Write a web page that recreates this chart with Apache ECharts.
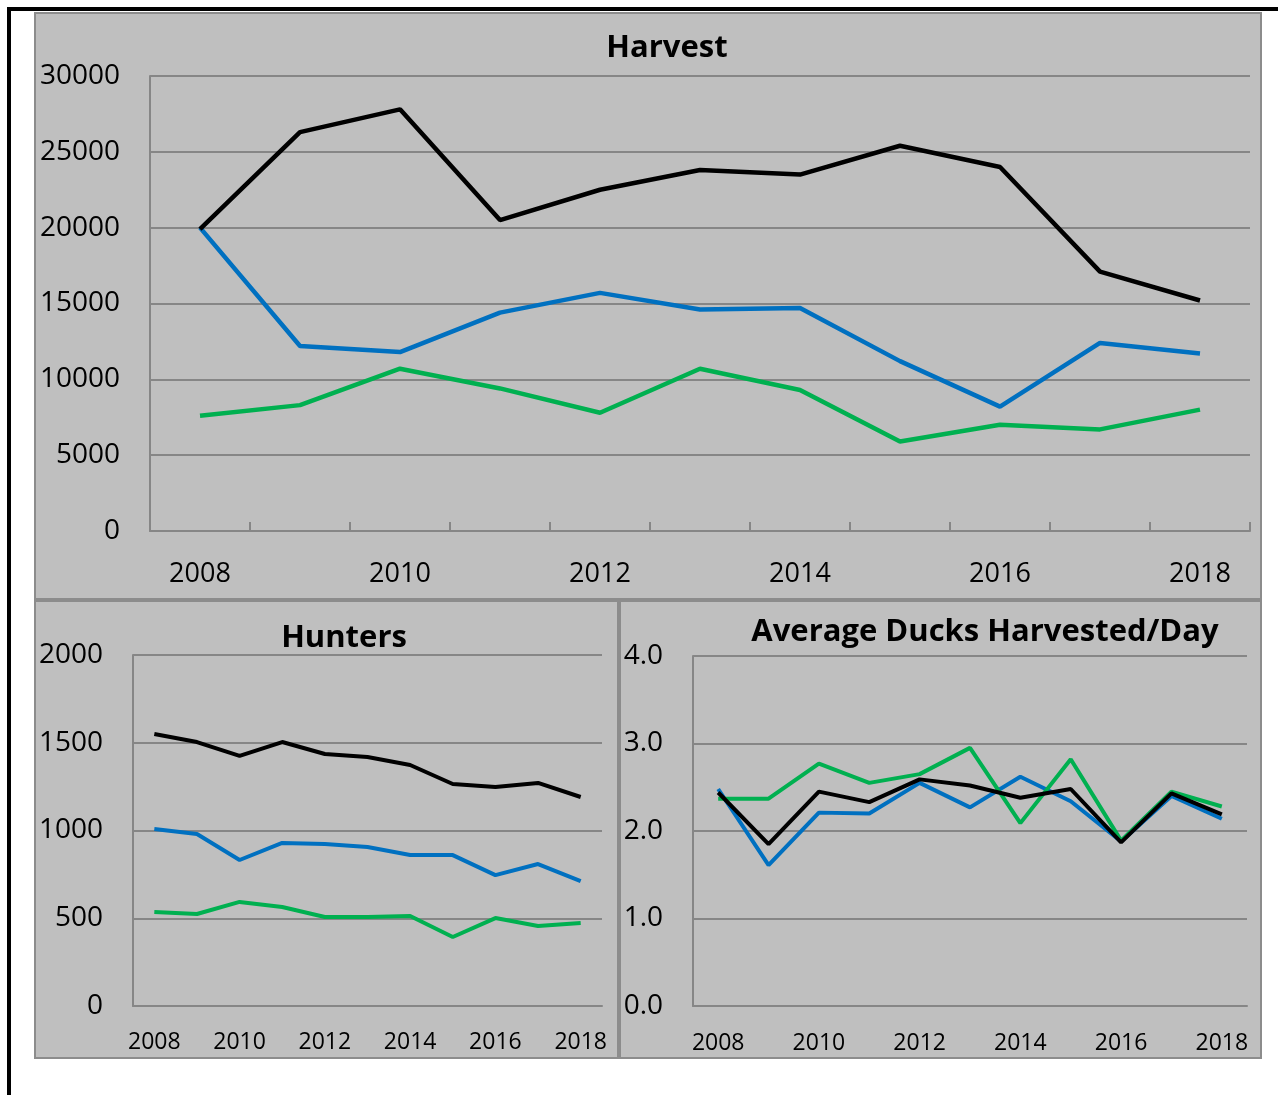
<!DOCTYPE html>
<html>
<head>
<meta charset="utf-8">
<script src="https://cdn.jsdelivr.net/npm/echarts@6/dist/echarts.min.js"></script>
<style>
html,body{margin:0;padding:0;background:#fff;}
#chart{width:1278px;height:1095px;}
</style>
</head>
<body>
<div id="chart"></div>
<script>
var years = ['2008','2009','2010','2011','2012','2013','2014','2015','2016','2017','2018'];

var harvestBlack = [19900, 26300, 27800, 20500, 22500, 23800, 23500, 25400, 24000, 17100, 15200];
var harvestBlue  = [20000, 12200, 11800, 14400, 15700, 14600, 14700, 11200, 8200, 12400, 11700];
var harvestGreen = [7600, 8300, 10700, 9400, 7800, 10700, 9300, 5900, 7000, 6700, 8000];

var huntersBlack = [1550, 1504, 1425, 1504, 1436, 1419, 1373, 1265, 1248, 1271, 1191];
var huntersBlue  = [1009, 980, 832, 929, 923, 906, 860, 860, 746, 809, 712];
var huntersGreen = [536, 524, 593, 564, 507, 507, 513, 393, 501, 456, 473];

var avgBlack = [2.44, 1.85, 2.45, 2.33, 2.59, 2.52, 2.38, 2.48, 1.87, 2.43, 2.19];
var avgBlue  = [2.48, 1.61, 2.21, 2.20, 2.55, 2.27, 2.62, 2.34, 1.88, 2.40, 2.14];
var avgGreen = [2.37, 2.37, 2.77, 2.55, 2.65, 2.95, 2.09, 2.82, 1.89, 2.45, 2.28];

var BLACK = '#000000', BLUE = '#0070C0', GREEN = '#00B050';
var GRID = '#868686';
var FONT = 'Open Sans';

var chart = echarts.init(document.getElementById('chart'), null, {renderer:'canvas'});

function xAxis(gi, fs, margin, ticks) {
  return {
    type:'category', gridIndex:gi, data:years, boundaryGap:true,
    axisLine:{show:true, lineStyle:{color:GRID, width:2}},
    axisTick:{show:ticks, inside:true, length:9, interval:0, lineStyle:{color:GRID, width:2}},
    axisLabel:{interval:1, color:'#000', fontSize:fs, fontFamily:FONT, margin:margin},
    splitLine:{show:false}
  };
}
function yAxis(gi, max, interval, fs, margin, fmt) {
  return {
    type:'value', gridIndex:gi, min:0, max:max, interval:interval,
    axisLine:{show:true, lineStyle:{color:GRID, width:2}},
    axisTick:{show:false},
    axisLabel:{color:'#000', fontSize:fs, fontFamily:FONT, margin:margin, formatter:fmt},
    splitLine:{show:true, lineStyle:{color:GRID, width:2}}
  };
}
function line(gi, data, color, w) {
  return {type:'line', xAxisIndex:gi, yAxisIndex:gi, data:data, symbol:'none',
    lineStyle:{color:color, width:w}, itemStyle:{color:color}, animation:false, z:3};
}
function plain(v){ return String(v); }

var option = {
  animation:false,
  backgroundColor:'#ffffff',
  graphic:[
    {type:'rect', z:-10, shape:{x:35, y:13, width:1226, height:586}, style:{fill:'#bfbfbf', stroke:'#8c8c8c', lineWidth:2}},
    {type:'rect', z:-10, shape:{x:35, y:601, width:583, height:457}, style:{fill:'#bfbfbf', stroke:'#8c8c8c', lineWidth:2}},
    {type:'rect', z:-10, shape:{x:620, y:601, width:641, height:457}, style:{fill:'#bfbfbf', stroke:'#8c8c8c', lineWidth:2}},
    {type:'rect', z:-5, shape:{x:7, y:7, width:1271, height:4}, style:{fill:'#000'}},
    {type:'rect', z:-5, shape:{x:7, y:7, width:4, height:1088}, style:{fill:'#000'}}
  ],
  title:[
    {text:'Harvest', left:662, top:43, textAlign:'center', textVerticalAlign:'middle',
     textStyle:{fontSize:31, fontWeight:'bold', fontFamily:FONT, color:'#000'}},
    {text:'Hunters', left:339, top:633, textAlign:'center', textVerticalAlign:'middle',
     textStyle:{fontSize:31, fontWeight:'bold', fontFamily:FONT, color:'#000'}},
    {text:'Average Ducks Harvested/Day', left:980, top:627, textAlign:'center', textVerticalAlign:'middle',
     textStyle:{fontSize:31, fontWeight:'bold', fontFamily:FONT, color:'#000'}}
  ],
  grid:[
    {left:150, top:76, width:1100, height:455},
    {left:133, top:655, width:469, height:351},
    {left:693, top:656, width:554, height:350}
  ],
  xAxis:[xAxis(0, 27, 30, true), xAxis(1, 23, 25, false), xAxis(2, 23, 26, false)],
  yAxis:[
    yAxis(0, 30000, 5000, 28, 30, plain),
    yAxis(1, 2000, 500, 28, 30, plain),
    yAxis(2, 4, 1, 28, 30, function(v){return v.toFixed(1);})
  ],
  series:[
    line(0, harvestBlue, BLUE, 4.5), line(0, harvestGreen, GREEN, 4.5), line(0, harvestBlack, BLACK, 4.5),
    line(1, huntersBlue, BLUE, 4), line(1, huntersGreen, GREEN, 4), line(1, huntersBlack, BLACK, 4),
    line(2, avgBlue, BLUE, 4), line(2, avgGreen, GREEN, 4), line(2, avgBlack, BLACK, 4)
  ]
};
chart.setOption(option);
</script>
</body>
</html>
